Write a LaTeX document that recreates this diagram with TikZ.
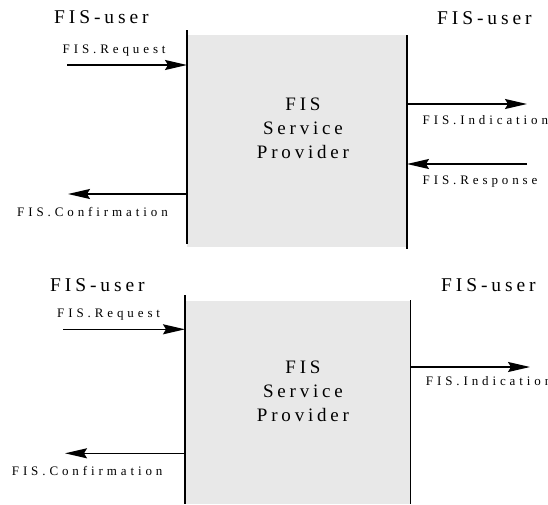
\documentclass[tikz,border=0pt]{standalone}
\usepackage{fontspec}
\setmainfont{Liberation Serif}
\newfontfamily\bigspaced[LetterSpace=20]{Liberation Serif}
\newfontfamily\smallspaced[LetterSpace=30]{Liberation Serif}
\usetikzlibrary{arrows.meta}
\begin{document}
\begin{tikzpicture}[x=1pt,y=-1pt,
  user/.style={inner sep=0pt,anchor=base west,font=\bigspaced\fontsize{19.5}{24}\selectfont},
  prim/.style={inner sep=0pt,anchor=base west,font=\smallspaced\fontsize{13}{16}\selectfont},
  provider/.style={inner sep=0pt,align=center,font=\bigspaced\fontsize{19}{24}\selectfont},
  sap/.style={line width=1.5pt},
  msg/.style={line width=1.5pt,-{Stealth[length=22pt,width=10pt,inset=3pt]}},
  box/.style={fill=black!9,draw=none}]
\useasboundingbox (0,0) rectangle (548,504);

% ---------- confirmed service ----------
\fill[box] (187,35) rectangle (407,247);
\draw[sap] (187,30) coordinate (l1t) -- (187,244) coordinate (l1b);
\draw[sap] (407,35) coordinate (r1t) -- (407,249) coordinate (r1b);
\node[provider] (sp1) at (303,128) {FIS\\Service\\Provider};
\node[user] (u1l) at (54,23.5) {FIS-user};
\node[user] (u1r) at (437,24.5) {FIS-user};

\coordinate (req1s) at (67,65);   \coordinate (req1e) at (187,65);
\coordinate (con1s) at (187,194); \coordinate (con1e) at (68,194);
\coordinate (ind1s) at (407,104); \coordinate (ind1e) at (527,104);
\coordinate (rsp1s) at (527,164); \coordinate (rsp1e) at (407,164);
\draw[msg] (req1s) -- (req1e);
\draw[msg] (con1s) -- (con1e);
\draw[msg] (ind1s) -- (ind1e);
\draw[msg] (rsp1s) -- (rsp1e);
\node[prim] (req1) at (62.5,53.7) {FIS.Request};
\node[prim] (con1) at (17,216.5) {FIS.Confirmation};
\node[prim] (ind1) at (422.5,124) {FIS.Indication};
\node[prim] (rsp1) at (422.5,184) {FIS.Response};

% ---------- unconfirmed indication ----------
\fill[box] (185,301) rectangle (410,504);
\draw[sap] (185,295) coordinate (l2t) -- (185,504) coordinate (l2b);
\draw[sap] (410.5,300) coordinate (r2t) -- (410.5,504) coordinate (r2b);
\node[provider] (sp2) at (303,391) {FIS\\Service\\Provider};
\node[user] (u2l) at (50,291.3) {FIS-user};
\node[user] (u2r) at (441,291.3) {FIS-user};

\coordinate (req2s) at (63,329.3); \coordinate (req2e) at (185,329.3);
\coordinate (con2s) at (185,453.3); \coordinate (con2e) at (65,453.3);
\coordinate (ind2s) at (410.5,367);  \coordinate (ind2e) at (530,367);
\draw[msg] (req2s) -- (req2e);
\draw[msg] (con2s) -- (con2e);
\draw[msg] (ind2s) -- (ind2e);
\node[prim] (req2) at (57,317) {FIS.Request};
\node[prim] (con2) at (11.7,475.3) {FIS.Confirmation};
\node[prim] (ind2) at (425.7,385.3) {FIS.Indication};
\end{tikzpicture}
\end{document}
